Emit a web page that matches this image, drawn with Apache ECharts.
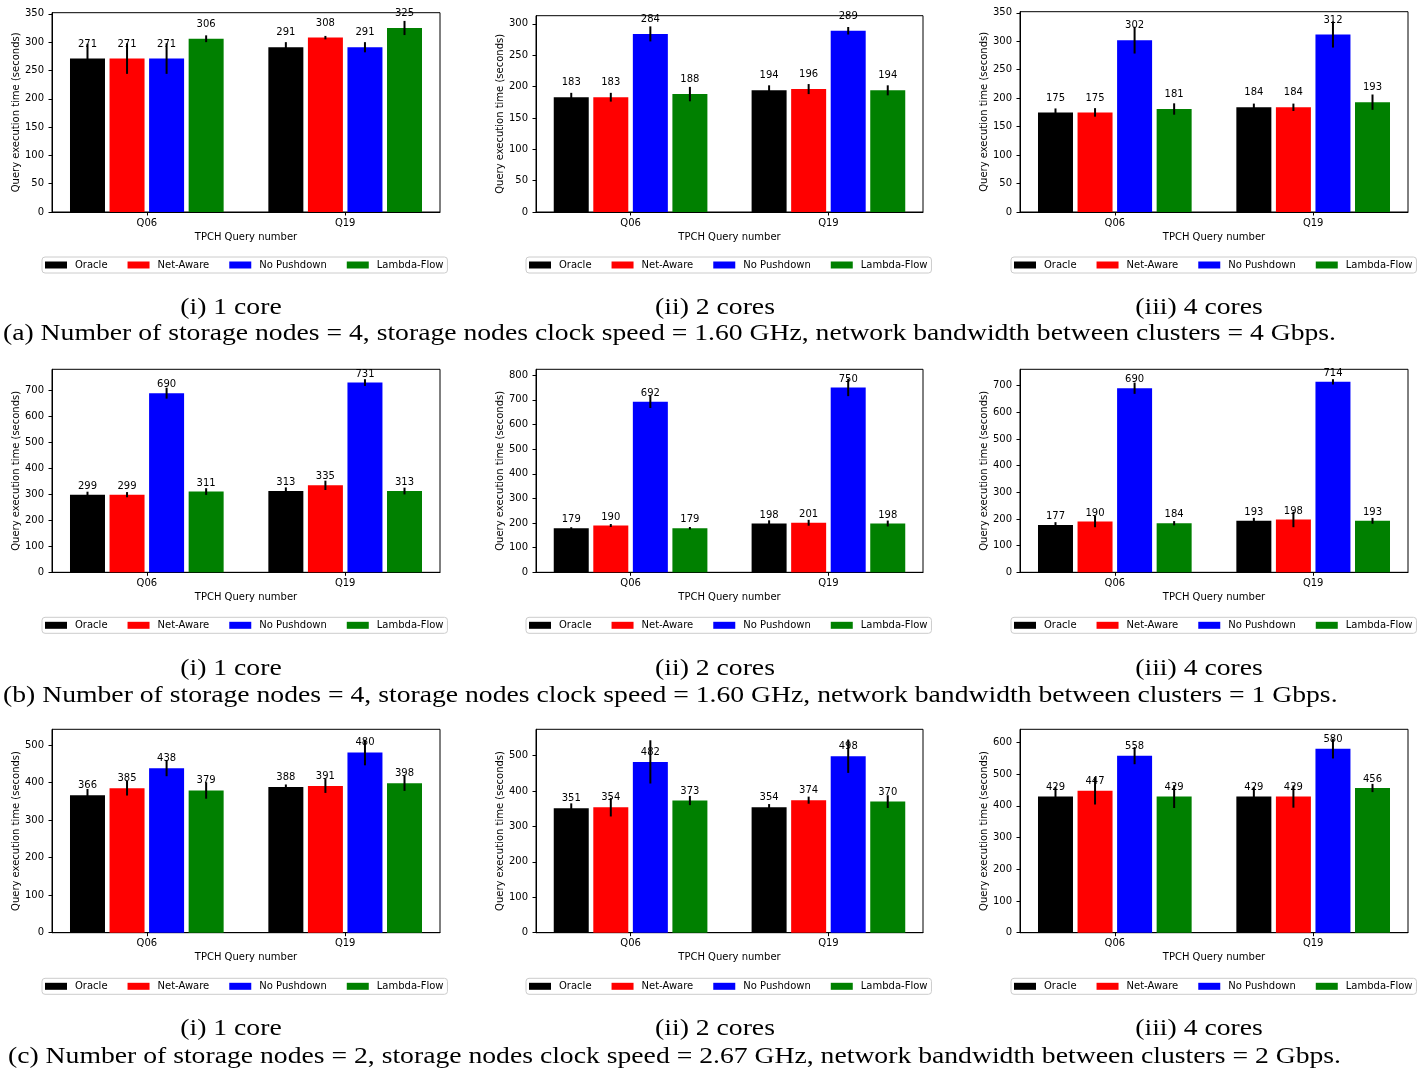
<!DOCTYPE html>
<html><head><meta charset="utf-8">
<script src="https://cdn.jsdelivr.net/npm/echarts@6/dist/echarts.min.js"></script>
<style>html,body{margin:0;padding:0;background:#fff}#c{width:1428px;height:1070px}</style>
</head><body><div id="c"></div>
<script>
// ---------------- data ----------------
const queries = ['Q06', 'Q19'];
const methods = ['Oracle', 'Net-Aware', 'No Pushdown', 'Lambda-Flow'];
const colors = ['#000000', '#ff0000', '#0000ff', '#008000'];

// values[method][query], errors = half-length of error bar
const a1Values = [[271, 291], [271, 308], [271, 291], [306, 325]];
const a1Errors = [[26, 9], [27, 3], [27, 9], [6, 12.5]];
const a2Values = [[183, 194], [183, 196], [284, 289], [188, 194]];
const a2Errors = [[7, 8], [7, 8], [12, 6], [11.5, 8]];
const a3Values = [[175, 184], [175, 184], [302, 312], [181, 193]];
const a3Errors = [[7, 6.5], [7.5, 6.5], [23.5, 23], [10, 13.5]];

const b1Values = [[299, 313], [299, 335], [690, 731], [311, 313]];
const b1Errors = [[11.5, 14], [10, 18], [21, 13], [13, 13]];
const b2Values = [[179, 198], [190, 201], [692, 750], [179, 198]];
const b2Errors = [[4, 13], [6, 12], [25, 35], [5, 12]];
const b3Values = [[177, 193], [190, 198], [690, 714], [184, 193]];
const b3Errors = [[11, 11], [21, 29], [21, 10], [8, 11]];

const c1Values = [[366, 388], [385, 391], [438, 480], [379, 398]];
const c1Errors = [[17, 7], [19.5, 18.5], [21, 34], [22, 20]];
const c2Values = [[351, 354], [354, 374], [482, 498], [373, 370]];
const c2Errors = [[14, 9], [26, 10], [61, 47], [13, 18]];
const c3Values = [[429, 429], [447, 429], [558, 580], [429, 456]];
const c3Errors = [[30, 30], [43, 35], [27, 31], [36, 13]];

const ticks50 = [0, 50, 100, 150, 200, 250, 300, 350];
const ticks300 = [0, 50, 100, 150, 200, 250, 300];
const ticks700 = [0, 100, 200, 300, 400, 500, 600, 700];
const ticks800 = [0, 100, 200, 300, 400, 500, 600, 700, 800];
const ticks500 = [0, 100, 200, 300, 400, 500];
const ticks600 = [0, 100, 200, 300, 400, 500, 600];

const subCaptions = ['(i) 1 core', '(ii) 2 cores', '(iii) 4 cores'];
const mainCaptions = [
  '(a) Number of storage nodes = 4, storage nodes clock speed = 1.60 GHz, network bandwidth between clusters = 4 Gbps.',
  '(b) Number of storage nodes = 4, storage nodes clock speed = 1.60 GHz, network bandwidth between clusters = 1 Gbps.',
  '(c) Number of storage nodes = 2, storage nodes clock speed = 2.67 GHz, network bandwidth between clusters = 2 Gbps.'
];
const yName = 'Query execution time (seconds)';
const xName = 'TPCH Query number';

// ---------------- layout ----------------
const FONT = 'DejaVu Sans';
const SERIF = 'Liberation Serif';
const colLeft = [52, 536, 1020];
const colWidth = [388, 387, 388];
const legendLeft = [42, 526, 1011];
const rowBottom = [212, 572.3, 932.7];
const legendTop = [257, 617.3, 978.3];
const subCapY = [308, 669, 1029];
const mainCapY = [334, 696, 1057];
const mainCapX = [3, 3, 8];
const subCapX = [231, 715, 1199];
const BAR_W = 35, BAR_GAP = 0.13;

const panels = [
  {v: a1Values, e: a1Errors, max: 352, ticks: ticks50, top: 12.7, dist: 9.5},
  {v: a2Values, e: a2Errors, max: 313, ticks: ticks300, top: 15.7, dist: 9.5},
  {v: a3Values, e: a3Errors, max: 352, ticks: ticks50, top: 11.7, dist: 9.5},
  {v: b1Values, e: b1Errors, max: 782, ticks: ticks700, top: 369.3, dist: 3.5},
  {v: b2Values, e: b2Errors, max: 824, ticks: ticks800, top: 369.3, dist: 3.5},
  {v: b3Values, e: b3Errors, max: 761, ticks: ticks700, top: 369.3, dist: 3.5},
  {v: c1Values, e: c1Errors, max: 542, ticks: ticks500, top: 729.3, dist: 5},
  {v: c2Values, e: c2Errors, max: 574, ticks: ticks500, top: 729.3, dist: 4.5},
  {v: c3Values, e: c3Errors, max: 641, ticks: ticks600, top: 729.3, dist: 4}
];

const grid = [], xAxis = [], yAxis = [], series = [], legend = [], graphic = [];
const txt = {fontFamily: FONT, fontSize: 10, color: '#000'};

panels.forEach((p, i) => {
  const row = Math.floor(i / 3), col = i % 3;
  grid.push({
    left: colLeft[col], top: p.top, width: colWidth[col], height: rowBottom[row] - p.top,
    show: true, borderColor: '#000', borderWidth: 1, backgroundColor: 'transparent'
  });
  xAxis.push({
    gridIndex: i, type: 'value', min: -0.478, max: 1.478,
    axisLine: {show: true, onZero: false, lineStyle: {color: '#000', width: 1}},
    axisTick: {show: true, length: 3.5, lineStyle: {color: '#000'}, customValues: [0, 1]},
    axisLabel: Object.assign({customValues: [0, 1], margin: 6, formatter: v => queries[Math.round(v)]}, txt),
    splitLine: {show: false},
    name: xName, nameLocation: 'middle', nameGap: 20, nameTextStyle: txt
  });
  yAxis.push({
    gridIndex: i, type: 'value', min: 0, max: p.max,
    axisLine: {show: true, onZero: false, lineStyle: {color: '#000', width: 1}},
    axisTick: {show: true, length: 3.5, lineStyle: {color: '#000'}, customValues: p.ticks},
    axisLabel: Object.assign({customValues: p.ticks, margin: 8}, txt),
    splitLine: {show: false},
    name: yName, nameLocation: 'middle', nameGap: 30, nameTextStyle: txt
  });
  methods.forEach((m, s) => {
    series.push({
      type: 'bar', name: m, xAxisIndex: i, yAxisIndex: i,
      data: queries.map((q, qi) => [qi, p.v[s][qi]]),
      barWidth: BAR_W, barGap: (BAR_GAP * 100) + '%',
      itemStyle: {color: colors[s]},
      label: Object.assign({show: true, position: 'top', distance: p.dist, formatter: d => d.value[1]}, txt),
      emphasis: {disabled: true}, animation: false, z: 2
    });
  });
  const errData = [];
  methods.forEach((m, s) => queries.forEach((q, qi) => errData.push([qi, s, p.v[s][qi], p.e[s][qi]])));
  series.push({
    type: 'custom', xAxisIndex: i, yAxisIndex: i, data: errData, z: 5, animation: false, silent: true,
    encode: {x: 0, y: 2},
    renderItem: (params, api) => {
      const qi = api.value(0), s = api.value(1), v = api.value(2), e = api.value(3);
      const slot = BAR_W * (1 + BAR_GAP);
      const c = api.coord([qi, v]);
      const px = c[0] + (s - 1.5) * slot;
      const lo = api.coord([qi, v - e]), hi = api.coord([qi, v + e]);
      return {type: 'line', shape: {x1: px, y1: lo[1], x2: px, y2: hi[1]}, style: {stroke: '#000', lineWidth: 2}};
    }
  });
  legend.push({
    left: legendLeft[col], top: legendTop[row], orient: 'horizontal', data: methods, icon: 'rect',
    itemWidth: 22, itemHeight: 7, itemGap: 20, selectedMode: false,
    textStyle: Object.assign({padding: [0, 0, 0, 3]}, txt),
    borderColor: '#cccccc', borderWidth: 1, borderRadius: 3, padding: [3, 4, 3, 3]
  });
});

// captions: scale horizontally so the caption width matches the reference
const CAP_FONT = 24;
const mc = document.createElement('canvas').getContext('2d');
mc.font = CAP_FONT + 'px "' + SERIF + '"';
const targetW = 1333;
const scaleX = targetW / mc.measureText(mainCaptions[0]).width;
for (let r = 0; r < 3; r++) {
  subCaptions.forEach((t, c) => {
    graphic.push({type: 'text', x: subCapX[c], y: subCapY[r], scaleX: scaleX,
      style: {text: t, fontFamily: SERIF, fontSize: CAP_FONT, fill: '#000',
        textAlign: 'center', textVerticalAlign: 'middle', align: 'center', verticalAlign: 'middle'}});
  });
  graphic.push({type: 'text', x: mainCapX[r], y: mainCapY[r], scaleX: scaleX,
    style: {text: mainCaptions[r], fontFamily: SERIF, fontSize: CAP_FONT, fill: '#000',
      textAlign: 'left', textVerticalAlign: 'middle', align: 'left', verticalAlign: 'middle'}});
}

const chart = echarts.init(document.getElementById('c'), null, {renderer: 'canvas'});
chart.setOption({animation: false, backgroundColor: '#fff', grid, xAxis, yAxis, series, legend, graphic});
</script></body></html>
